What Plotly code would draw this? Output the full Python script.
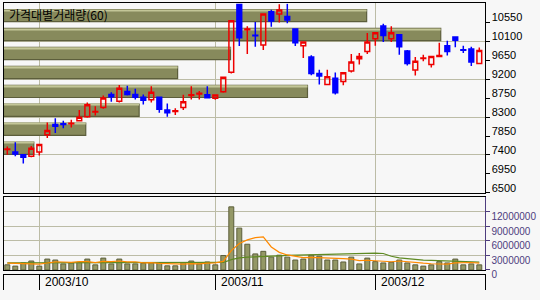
import plotly.graph_objects as go

# ---------------- data ----------------
dates = (["2003-09-25", "2003-09-26", "2003-09-29", "2003-09-30",
          "2003-10-01", "2003-10-02", "2003-10-06", "2003-10-07", "2003-10-08", "2003-10-09", "2003-10-10",
          "2003-10-13", "2003-10-14", "2003-10-15", "2003-10-16", "2003-10-17",
          "2003-10-20", "2003-10-21", "2003-10-22", "2003-10-23", "2003-10-24",
          "2003-10-27", "2003-10-28", "2003-10-29", "2003-10-30", "2003-10-31",
          "2003-11-03", "2003-11-04", "2003-11-05", "2003-11-06", "2003-11-07",
          "2003-11-10", "2003-11-11", "2003-11-12", "2003-11-13", "2003-11-14",
          "2003-11-17", "2003-11-18", "2003-11-19", "2003-11-20", "2003-11-21",
          "2003-11-24", "2003-11-25", "2003-11-26", "2003-11-27", "2003-11-28",
          "2003-12-01", "2003-12-02", "2003-12-03", "2003-12-04", "2003-12-05",
          "2003-12-08", "2003-12-09", "2003-12-10", "2003-12-11", "2003-12-12",
          "2003-12-15", "2003-12-16", "2003-12-17", "2003-12-18"])

open_ = [7530, 7470, 7405, 7370, 7470, 7880, 8125, 8140, 8140, 8215,
         8310, 8420, 8525, 8835, 8675, 8905, 8835, 8770, 8710, 8770,
         8465, 8435, 8525, 8815, 8850, 8830, 8745, 8900, 9365, 10980,
         10375, 10245, 10010, 10800, 10750, 10690, 10390, 9995, 9725, 9335,
         9075, 9220, 9145, 9395, 9685, 9855, 10160, 10465, 10160, 10255,
         9870, 9420, 9690, 9550, 9740, 9995, 10200, 9900, 9915, 9570]
high = [7600, 7700, 7410, 7615, 7655, 8170, 8270, 8210, 8235, 8465,
        8645, 8555, 8815, 8890, 9060, 9045, 8970, 8835, 9030, 8770,
        8625, 8510, 8830, 9030, 8920, 9030, 8830, 9265, 10605, 10990,
        10455, 10560, 10750, 10850, 10980, 10990, 10390, 10085, 9770, 9425,
        9425, 9360, 9350, 9795, 9820, 10295, 10315, 10515, 10455, 10255,
        9895, 9725, 9780, 9740, 10065, 10110, 10200, 9995, 9970, 9955]
low = [7405, 7370, 7195, 7345, 7385, 7805, 7920, 8035, 8055, 8205,
       8285, 8340, 8495, 8665, 8645, 8815, 8720, 8600, 8645, 8400,
       8310, 8350, 8470, 8720, 8720, 8760, 8710, 8875, 9335, 9985,
       9800, 9970, 9895, 10445, 10545, 10530, 9985, 9705, 9295, 9075,
       9055, 8835, 9055, 9360, 9550, 9800, 9995, 10085, 10085, 9780,
       9525, 9285, 9625, 9475, 9740, 9765, 9960, 9820, 9510, 9570]
close = [7540, 7420, 7345, 7560, 7650, 7980, 8080, 8125, 8155, 8295,
         8595, 8435, 8755, 8780, 8985, 8835, 8770, 8700, 8890, 8485,
         8400, 8450, 8665, 8830, 8865, 8760, 8825, 9245, 10590, 10185,
         10390, 10230, 10750, 10580, 10845, 10605, 10065, 10085, 9335, 9275,
         9260, 8875, 9350, 9605, 9740, 10085, 10300, 10240, 10300, 9970,
         9570, 9625, 9700, 9740, 9765, 9855, 10125, 9885, 9605, 9880]

volume = [1070000, 800000, 1460000, 1860000, 800000, 2260000, 2060000, 1260000, 1460000, 1600000,
          2260000, 1060000, 2460000, 1260000, 2260000, 1260000, 1260000, 1400000, 1460000, 1460000,
          860000, 860000, 1530000, 1860000, 1260000, 1660000, 1060000, 3000000, 13060000, 8660000,
          5330000, 3330000, 3860000, 2660000, 3060000, 2660000, 2060000, 2260000, 3060000, 2860000,
          2060000, 2060000, 1660000, 2660000, 1260000, 2460000, 1730000, 1460000, 1600000, 2060000,
          1460000, 1060000, 800000, 1060000, 1730000, 1460000, 2260000, 1060000, 1260000, 1060000]

vol_ma5 = [1400000, 1380000, 1360000, 1350000, 1200000, 1440000, 1690000, 1650000, 1570000, 1730000,
           1730000, 1530000, 1770000, 1730000, 1860000, 1660000, 1700000, 1490000, 1530000, 1370000,
           1290000, 1210000, 1230000, 1310000, 1270000, 1430000, 1470000, 1770000, 4010000, 5490000,
           6220000, 6680000, 6850000, 4770000, 3650000, 3110000, 2860000, 2540000, 2620000, 2580000,
           2460000, 2460000, 2340000, 2260000, 1940000, 2020000, 1950000, 1910000, 1700000, 1860000,
           1660000, 1530000, 1400000, 1290000, 1220000, 1220000, 1460000, 1510000, 1550000, 1420000]
vol_ma20 = [1460000, 1460000, 1460000, 1470000, 1480000, 1520000, 1560000, 1580000, 1580000, 1590000,
            1600000, 1600000, 1600000, 1600000, 1590000, 1580000, 1570000, 1560000, 1550000, 1540000,
            1530000, 1530000, 1530000, 1530000, 1560000, 1530000, 1480000, 1560000, 2140000, 2500000,
            2650000, 2760000, 2830000, 2900000, 2940000, 3010000, 3050000, 3100000, 3180000, 3250000,
            3310000, 3370000, 3370000, 3410000, 3410000, 3450000, 3490000, 3410000, 2840000, 2510000,
            2310000, 2200000, 2050000, 1970000, 1900000, 1840000, 1850000, 1790000, 1700000, 1610000]

# price-by-volume (60 days) : price band centres and relative volume
vp_price = [10710, 10260, 9810, 9360, 8910, 8460, 8010, 7560]
vp_volume = [75.5, 90.9, 47.2, 36.2, 63.2, 28.2, 17.1, 6.3]

price_ticks = [6500, 6950, 7400, 7850, 8300, 8750, 9200, 9650, 10100, 10550]
price_ticktext = ["6500", "6950", "7400", "7850", "8300", "8750", "9200", "9650", "10100", "10550"]
price_grid = [7400, 8300, 9200, 10100]
vol_ticks = [0, 3000000, 6000000, 9000000, 12000000]
vol_ticktext = ["0", "3000000", "6000000", "9000000", "12000000"]
title_text = "가격대별거래량(60)"

# ---------------- derived ----------------
idx = list(range(len(dates)))
month_idx = [i for i in idx if i > 0 and dates[i][5:7] != dates[i - 1][5:7]]
month_lbl = [dates[i][:4] + "/" + dates[i][5:7] for i in month_idx]

W, H = 540, 300
def px_x(p):
    return p / W
def px_y(p):
    return 1 - p / H

BG = "#f7f7f7"
GRID = "#bcbca6"
OLIVE = "#878a5c"
OLIVE_DARK = "#5c5e3b"
OLIVE_LIGHT = "#c3c697"
VOL_FILL = "#949866"
PURPLE = "#4e3d7e"
RED = "#ee0000"
BLUE = "#0000ff"
FONT = "Liberation Sans"

xr = [-0.475, 59.65]
xdom = [px_x(3.5), px_x(484.5)]

fig = go.Figure()

# price-by-volume horizontal bars (main subplot x / y)
fig.add_trace(go.Bar(
    y=vp_price, x=vp_volume, orientation="h", width=290,
    marker=dict(color=OLIVE, line=dict(color=OLIVE_DARK, width=1.2)),
    xaxis="x", yaxis="y", hoverinfo="skip"))
# light top edge of each price band bar
fig.add_trace(go.Bar(
    y=vp_price, x=vp_volume, orientation="h", width=28, offset=118,
    marker=dict(color=OLIVE_LIGHT, line=dict(width=0)),
    xaxis="x", yaxis="y", hoverinfo="skip"))

# candles (overlay subplot x5 / y5)
fig.add_trace(go.Candlestick(
    x=idx, open=open_, high=high, low=low, close=close,
    increasing=dict(line=dict(color=RED, width=1.5), fillcolor="rgba(0,0,0,0)"),
    decreasing=dict(line=dict(color=BLUE, width=1.5), fillcolor=BLUE),
    whiskerwidth=0, xaxis="x5", yaxis="y5", hoverinfo="skip"))

# volume bars
fig.add_trace(go.Bar(
    x=idx, y=volume, width=0.62,
    marker=dict(color=VOL_FILL, line=dict(color=OLIVE_DARK, width=1)),
    xaxis="x2", yaxis="y2", hoverinfo="skip"))
fig.add_trace(go.Scatter(
    x=idx, y=vol_ma20, mode="lines", line=dict(color="#5e8a22", width=1.2),
    xaxis="x2", yaxis="y6", hoverinfo="skip"))
fig.add_trace(go.Scatter(
    x=idx, y=vol_ma5, mode="lines", line=dict(color="#ff8a00", width=1.2),
    xaxis="x2", yaxis="y6", hoverinfo="skip"))

annotations = [dict(text=title_text, xref="paper", yref="paper", x=px_x(7), y=px_y(15.5),
                    xanchor="left", yanchor="middle", showarrow=False,
                    font=dict(family="Noto Sans CJK KR", size=12, color="black"))]
for mi, ml in zip(month_idx, month_lbl):
    annotations.append(dict(text=ml, xref="x3", yref="y3", x=mi, y=0.5, xanchor="left",
                            yanchor="middle", xshift=4, showarrow=False,
                            font=dict(family=FONT, size=12, color="black")))

fig.update_layout(
    width=W, height=H, margin=dict(l=0, r=0, t=0, b=0),
    paper_bgcolor=BG, plot_bgcolor=BG, showlegend=False, hovermode=False,
    barmode="overlay", boxgap=0.15,
    xaxis=dict(domain=xdom, range=[0, 100], anchor="y", showticklabels=False, ticks="",
               showgrid=False, zeroline=False, showline=True, mirror=True,
               linecolor="black", linewidth=1),
    yaxis=dict(domain=[px_y(199.5), px_y(3.5)], range=[6500, 11000], anchor="x", side="right",
               tickmode="array", tickvals=price_ticks, ticktext=price_ticktext,
               ticks="outside", ticklen=4, tickcolor="black", ticklabelshift=-5,
               tickfont=dict(family=FONT, size=11, color="black"), showgrid=False, zeroline=False,
               showline=True, mirror=True, linecolor="black", linewidth=1),
    xaxis5=dict(overlaying="x", anchor="y", range=xr, tickmode="array", tickvals=month_idx,
                showticklabels=False, ticks="", showgrid=True, gridcolor=GRID, gridwidth=1,
                zeroline=False, showline=False),
    yaxis5=dict(overlaying="y", anchor="x", range=[6500, 11000], tickmode="array", tickvals=price_grid,
                showticklabels=False, ticks="", showgrid=True, gridcolor=GRID, gridwidth=1,
                zeroline=False, showline=False),
    xaxis2=dict(domain=xdom, range=xr, anchor="y2", tickmode="array", tickvals=month_idx,
                showticklabels=False, ticks="", showgrid=True, gridcolor=GRID, zeroline=False,
                showline=True, mirror=True, linecolor="black", linewidth=1),
    yaxis2=dict(domain=[px_y(279.3), px_y(204.3)], range=[0, 15000000], anchor="x2", side="right",
                tickmode="array", tickvals=vol_ticks, showticklabels=False, ticks="",
                showgrid=True, gridcolor=GRID, zeroline=False,
                showline=True, mirror=True, linecolor="black", linewidth=1),
    yaxis6=dict(overlaying="y2", anchor="x2", side="right", range=[0, 15000000],
                tickmode="array", tickvals=vol_ticks, ticktext=vol_ticktext, ticks="outside",
                ticklen=4, tickcolor=PURPLE, ticklabelshift=5,
                tickfont=dict(family=FONT, size=10, color=PURPLE), showgrid=False, zeroline=False,
                showline=True, linecolor=PURPLE, linewidth=1),
    xaxis3=dict(domain=xdom, range=xr, anchor="y3", side="top", tickmode="array", tickvals=month_idx,
                showticklabels=False, ticks="", showgrid=True, gridcolor="black", zeroline=False,
                showline=True, mirror=False, linecolor="black", linewidth=1),
    yaxis3=dict(domain=[0, px_y(284.3)], range=[0, 1], anchor="x3", showticklabels=False, ticks="",
                showgrid=False, zeroline=False, showline=True, mirror=True, linecolor="black", linewidth=1),
    annotations=annotations,
)
fig.update_xaxes(rangeslider_visible=False)

fig.write_html("out.html")
